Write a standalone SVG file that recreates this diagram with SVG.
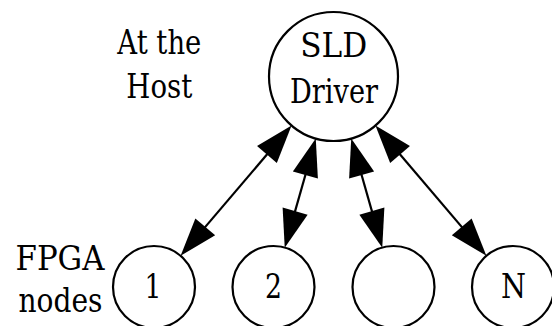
<svg xmlns="http://www.w3.org/2000/svg" width="552" height="326" viewBox="0 0 552 326">
  <style>
    .node { fill: #ffffff; stroke: #000000; stroke-width: 2.2; }
    .label { font-family: 'DejaVu Serif', 'Liberation Serif', serif; font-size: 33px; fill: #000000; text-anchor: middle; }
    .link { stroke: #000000; stroke-width: 2.2; fill: none; marker-start: url(#head); marker-end: url(#head); }
  </style>
  <defs>
    <!-- solid arrowhead; the tip sits 20px past the line end so the shaft never shows through -->
    <marker id="head" markerUnits="userSpaceOnUse" orient="auto-start-reverse" overflow="visible"
            markerWidth="40" markerHeight="28" refX="0" refY="0">
      <path d="M20,0 L-18,-13 L-18,13 Z" fill="#000000"/>
    </marker>
  </defs>

  <!-- side captions -->
  <g id="caption-host">
    <text class="label" x="159.3" y="54" textLength="84" lengthAdjust="spacingAndGlyphs">At the</text>
    <text class="label" x="159.3" y="98" textLength="66" lengthAdjust="spacingAndGlyphs">Host</text>
  </g>
  <g id="caption-fpga">
    <text class="label" x="60" y="270" textLength="89" lengthAdjust="spacingAndGlyphs">FPGA</text>
    <text class="label" x="60.5" y="312" textLength="84" lengthAdjust="spacingAndGlyphs">nodes</text>
  </g>

  <!-- host driver -->
  <g id="sld-driver">
    <circle class="node" cx="333.5" cy="76.5" r="64.5"/>
    <text class="label" x="333.7" y="57" textLength="67" lengthAdjust="spacingAndGlyphs">SLD</text>
    <text class="label" x="334" y="103" textLength="88" lengthAdjust="spacingAndGlyphs">Driver</text>
  </g>

  <!-- FPGA nodes -->
  <g id="node-1">
    <circle class="node" cx="154" cy="287" r="41"/>
    <text class="label" x="153" y="298" textLength="17" lengthAdjust="spacingAndGlyphs">1</text>
  </g>
  <g id="node-2">
    <circle class="node" cx="273.5" cy="287" r="41"/>
    <text class="label" x="273.5" y="298" textLength="17" lengthAdjust="spacingAndGlyphs">2</text>
  </g>
  <g id="node-3">
    <circle class="node" cx="393.5" cy="287" r="41"/>
  </g>
  <g id="node-n">
    <circle class="node" cx="513" cy="287" r="41"/>
    <text class="label" x="513.5" y="298" textLength="25" lengthAdjust="spacingAndGlyphs">N</text>
  </g>

  <!-- bidirectional links, centre to centre, trimmed 20px at each end -->
  <g id="connectors">
    <line class="link" x1="278.6" y1="140.8" x2="193.6" y2="240.6"/>
    <line class="link" x1="310.3" y1="157.7" x2="290.2" y2="228.4"/>
    <line class="link" x1="356.7" y1="157.7" x2="376.8" y2="228.4"/>
    <line class="link" x1="388.4" y1="140.8" x2="473.4" y2="240.6"/>
  </g>
</svg>
